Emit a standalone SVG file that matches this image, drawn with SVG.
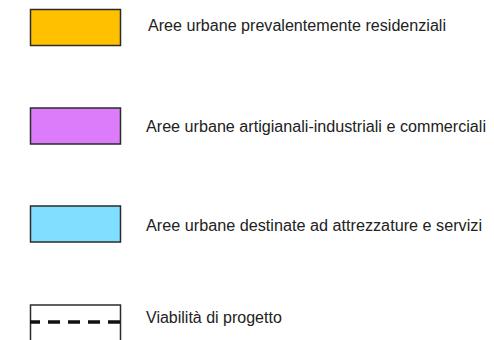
<svg xmlns="http://www.w3.org/2000/svg" width="494" height="340" viewBox="0 0 494 340">
<style>
.box{stroke:#2b2b2b;stroke-width:1.5}
.lbl{font-family:"Liberation Sans",Arial,sans-serif;font-size:16px;fill:#222}
</style>
<rect x="0" y="0" width="494" height="340" fill="#fff"/>
<g id="residenziali">
<rect class="box" x="30.5" y="9.5" width="90" height="36" fill="#FFC000"/>
<text class="lbl" x="148" y="30.5" textLength="298" lengthAdjust="spacingAndGlyphs">Aree urbane prevalentemente residenziali</text>
</g>
<g id="industriali">
<rect class="box" x="30.5" y="108" width="90" height="36" fill="#DC7CFA"/>
<text class="lbl" x="146" y="131.5" textLength="340" lengthAdjust="spacingAndGlyphs">Aree urbane artigianali-industriali e commerciali</text>
</g>
<g id="servizi">
<rect class="box" x="30.5" y="206" width="90" height="36" fill="#80DFFF"/>
<text class="lbl" x="146" y="230.5" textLength="336" lengthAdjust="spacingAndGlyphs">Aree urbane destinate ad attrezzature e servizi</text>
</g>
<g id="viabilita">
<path class="box" d="M30.5 345 V305 H120.5 V345" fill="#fff"/>
<line x1="30" y1="322" x2="120.5" y2="322" stroke="#111" stroke-width="3.5" stroke-dasharray="12 8" stroke-dashoffset="2"/>
<text class="lbl" x="146" y="323">Viabilità di progetto</text>
</g>
</svg>
